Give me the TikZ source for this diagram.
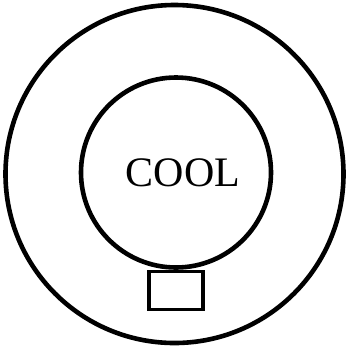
\documentclass[tikz,border=0pt]{standalone}
\usepackage{fontspec}
\setmainfont{Liberation Serif}
\usetikzlibrary{positioning}
\tikzset{ring/.style={circle, draw, line width=4.6pt, inner sep=0pt}}

\begin{document}
\begin{tikzpicture}[x=1pt, y=-1pt]
        \useasboundingbox (0,0) rectangle (347,346);

        \node[ring, minimum size=338pt] (outer) at (174.5,174) {};
        \node[ring, minimum size=190pt] (inner) at (176,172.5) {};
        \node[draw, line width=3.4pt, minimum width=54pt, minimum height=38pt,
            inner sep=0pt, below=0pt of inner] (box) {};

        \node[font=\fontsize{42}{42}\selectfont] (cool) at (183,173) {COOL};

    \end{tikzpicture}
\end{document}
